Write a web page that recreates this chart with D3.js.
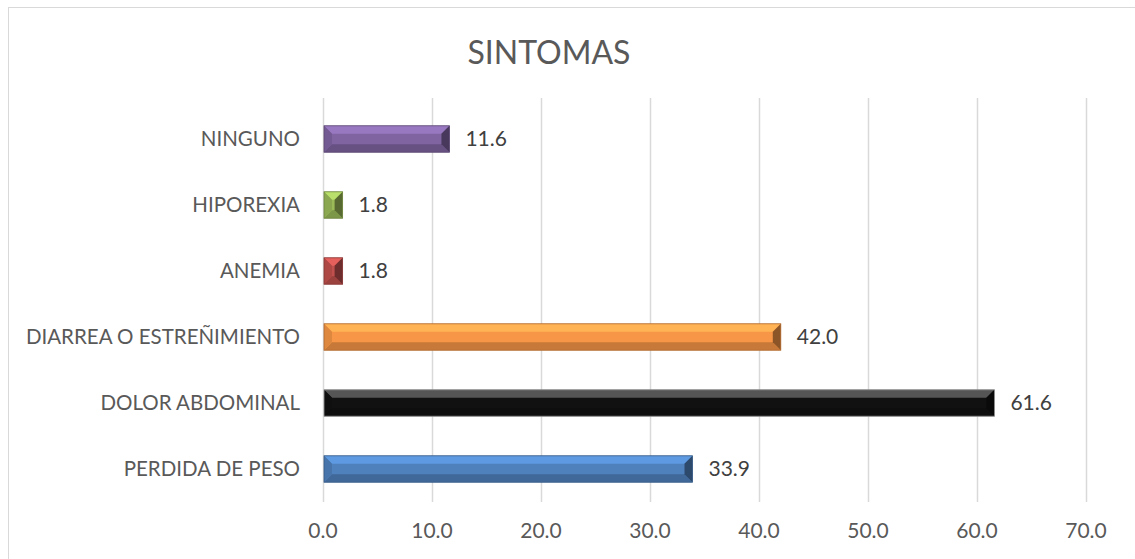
<!DOCTYPE html>
<html><head><meta charset="utf-8">
<script src="https://cdn.jsdelivr.net/npm/d3@7"></script>
<style>body{margin:0;background:#fff}svg{display:block}</style>
</head><body><svg id="c" width="1135" height="559"></svg>
<script>
const categories = ["NINGUNO","HIPOREXIA","ANEMIA","DIARREA O ESTREÑIMIENTO","DOLOR ABDOMINAL","PERDIDA DE PESO"];
const values = [11.6, 1.8, 1.8, 42.0, 61.6, 33.9];
const colors = ["#8064A2","#9BBB59","#C0504D","#F79646","#111111","#4F81BD"];
const ticks = [0,10,20,30,40,50,60,70];
const title = "SINTOMAS";

const svg = d3.select("#c");
const font = "Lato, sans-serif";
svg.append("rect").attr("x",8.5).attr("y",7.5).attr("width",1140).attr("height",560)
  .attr("fill","#fff").attr("stroke","#d9d9d9");

const x = d3.scaleLinear().domain([0,70]).range([323,1086]);
const y = d3.scaleBand().domain(categories).range([106,502]).paddingInner(0.6).paddingOuter(0.3);

svg.append("g").selectAll("line").data(ticks).join("line")
  .attr("x1",d=>x(d)+0.5).attr("x2",d=>x(d)+0.5).attr("y1",98).attr("y2",502)
  .attr("stroke","#d9d9d9").attr("stroke-width",1.5);

svg.append("g").selectAll("text").data(ticks).join("text")
  .attr("x",d=>x(d)).attr("y",538).attr("text-anchor","middle")
  .attr("font-family",font).attr("font-size",21).attr("fill","#595959")
  .text(d=>d.toFixed(1));

svg.append("g").selectAll("text").data(categories).join("text")
  .attr("x",300).attr("y",d=>y(d)+y.bandwidth()/2+7).attr("text-anchor","end")
  .attr("font-family",font).attr("font-size",20.5).attr("fill","#595959")
  .text(d=>d);

const bars = svg.append("g");
categories.forEach((c,i)=>{
  const x0 = x(0)+1, x1 = x(values[i]), y0 = y(c), h = y.bandwidth(), y1 = y0+h;
  const w = x1-x0;
  const b = Math.min(8, w/2, h/3);
  const col = d3.color(colors[i]);
  const g = bars.append("g");
  const P = pts => pts.map(p=>p.join(",")).join(" ");
  g.append("rect").attr("x",x0).attr("y",y0).attr("width",w).attr("height",h).attr("fill",col.formatHex());
  g.append("polygon").attr("points",P([[x0,y0],[x1,y0],[x1-b,y0+b],[x0+b,y0+b]]))
    .attr("fill",(i===4? "#555":col.brighter(0.5).formatHex()));
  g.append("polygon").attr("points",P([[x0,y1],[x1,y1],[x1-b,y1-b],[x0+b,y1-b]]))
    .attr("fill",col.darker(0.6).formatHex());
  g.append("polygon").attr("points",P([[x0,y0],[x0+b,y0+b],[x0+b,y1-b],[x0,y1]]))
    .attr("fill",col.darker(0.3).formatHex());
  g.append("polygon").attr("points",P([[x1,y0],[x1-b,y0+b],[x1-b,y1-b],[x1,y1]]))
    .attr("fill",col.darker(1.6).formatHex());
  g.append("rect").attr("x",x0).attr("y",y0).attr("width",w).attr("height",h)
    .attr("fill","none").attr("stroke",i===4?"#999":col.darker(1).formatHex()).attr("stroke-width",0.8);
  g.append("text").attr("x",x1+16).attr("y",y0+h/2+7)
    .attr("font-family",font).attr("font-size",21).attr("fill","#404040")
    .text(values[i].toFixed(1));
});

svg.append("text").attr("x",549).attr("y",64).attr("text-anchor","middle")
  .attr("font-family",font).attr("font-size",32).attr("fill","#595959").text(title);
</script></body></html>
